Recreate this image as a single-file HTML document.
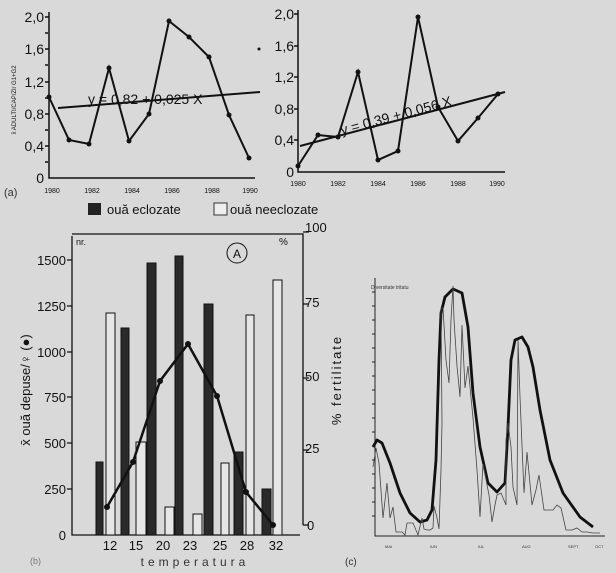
<!DOCTYPE html>
<html><head><meta charset="utf-8"><style>
html,body{margin:0;padding:0;background:#d9d9d9;}
svg{display:block;font-family:"Liberation Sans",sans-serif;}
</style></head><body>
<svg width="616" height="573" viewBox="0 0 616 573" xmlns="http://www.w3.org/2000/svg">
<rect width="616" height="573" fill="#d9d9d9"/>
<!-- Chart 1 -->
<g stroke="#111" fill="none" stroke-width="1.5">
<path d="M49,12 V178 H255"/>
<path d="M45,17h4M45,49h4M45,82h4M45,114h4M45,146h4M45,33h3M45,65h3M45,98h3M45,130h3M45,162h3"/>
<polyline stroke-width="2" points="49,97 69,140 89,144 109,68 129,141 149,114 169,21 189,37 209,57 229,115 249,158"/>
<line x1="58" y1="108" x2="260" y2="92" stroke-width="2"/>
</g>
<g fill="#111"><circle cx="49" cy="97" r="2.5"/><circle cx="69" cy="140" r="2.5"/><circle cx="89" cy="144" r="2.5"/><circle cx="109" cy="68" r="2.5"/><circle cx="129" cy="141" r="2.5"/><circle cx="149" cy="114" r="2.5"/><circle cx="169" cy="21" r="2.5"/><circle cx="189" cy="37" r="2.5"/><circle cx="209" cy="57" r="2.5"/><circle cx="229" cy="115" r="2.5"/><circle cx="249" cy="158" r="2.5"/></g>
<g font-size="14" fill="#111" text-anchor="end"><text x="44" y="22">2,0</text><text x="44" y="54">1,6</text><text x="44" y="87">1,2</text><text x="44" y="119">0,8</text><text x="44" y="151">0,4</text><text x="44" y="183">0</text></g>
<text x="88" y="104" font-size="14" fill="#111">y = 0,82 + 0,025 X</text>
<g font-size="7" fill="#111" text-anchor="middle"><text x="52" y="193">1980</text><text x="92" y="193">1982</text><text x="132" y="193">1984</text><text x="172" y="193">1986</text><text x="212" y="193">1988</text><text x="250" y="193">1990</text></g>
<text transform="translate(16,100) rotate(-90)" font-size="6" text-anchor="middle" fill="#111">x̄ ADULTI/CAP/ZI/ G1+G2</text>
<text x="4" y="196" font-size="11" fill="#333">(a)</text>
<!-- Chart 2 -->
<g stroke="#111" fill="none" stroke-width="1.5">
<path d="M298,10 V172 H505"/>
<path d="M294,14h4M294,46h4M294,77h4M294,109h4M294,140h4"/>
<polyline stroke-width="2" points="298,166 318,135 338,137 358,72 378,160 398,151 418,17 438,107 458,141 478,118 498,94"/>
<line x1="300" y1="146" x2="505" y2="92" stroke-width="2"/>
</g>
<g fill="#111"><circle cx="298" cy="166" r="2.5"/><circle cx="318" cy="135" r="2.5"/><circle cx="338" cy="137" r="2.5"/><circle cx="358" cy="72" r="2.5"/><circle cx="378" cy="160" r="2.5"/><circle cx="398" cy="151" r="2.5"/><circle cx="418" cy="17" r="2.5"/><circle cx="438" cy="107" r="2.5"/><circle cx="458" cy="141" r="2.5"/><circle cx="478" cy="118" r="2.5"/><circle cx="498" cy="94" r="2.5"/><circle cx="259" cy="49" r="1.5"/></g>
<g font-size="14" fill="#111" text-anchor="end"><text x="294" y="19">2,0</text><text x="294" y="51">1,6</text><text x="294" y="82">1,2</text><text x="294" y="114">0,8</text><text x="294" y="145">0,4</text><text x="294" y="177">0</text></g>
<text transform="translate(342,135) rotate(-15)" font-size="14" fill="#111">y = 0,39 + 0,056 X</text>
<g font-size="7" fill="#111" text-anchor="middle"><text x="298" y="186">1980</text><text x="338" y="186">1982</text><text x="378" y="186">1984</text><text x="418" y="186">1986</text><text x="458" y="186">1988</text><text x="497" y="186">1990</text></g>
<!-- legend -->
<rect x="88" y="203" width="13" height="12" fill="#222"/>
<text x="107" y="214" font-size="13" fill="#111">ouă eclozate</text>
<rect x="214" y="203" width="13" height="12" fill="#eee" stroke="#333"/>
<text x="230" y="214" font-size="13" fill="#111">ouă neeclozate</text>
<!-- Chart 3 -->
<g stroke="#111" fill="none" stroke-width="1.3">
<path d="M72,236 V535 H300"/><path d="M72,234 H303 V525"/>
<path d="M67,260h5M67,306h5M67,352h5M67,397h5M67,443h5M67,489h5"/>
<path d="M303,232h6M303,304h6M303,378h6M303,450h6M303,525h6"/>
</g>
<g fill="#2a2a2a" stroke="#111">
<rect x="96" y="462" width="7" height="73"/><rect x="121" y="328" width="8" height="207"/><rect x="147" y="263" width="9" height="272"/><rect x="175" y="256" width="8" height="279"/><rect x="204" y="304" width="9" height="231"/><rect x="234" y="452" width="9" height="83"/><rect x="262" y="489" width="9" height="46"/>
</g>
<g fill="#e6e6e6" stroke="#111">
<rect x="106" y="313" width="9" height="222"/><rect x="136" y="442" width="10" height="93"/><rect x="165" y="507" width="9" height="28"/><rect x="193" y="514" width="9" height="21"/><rect x="221" y="463" width="8" height="72"/><rect x="246" y="315" width="8" height="220"/><rect x="273" y="280" width="9" height="255"/>
</g>
<polyline fill="none" stroke="#111" stroke-width="2.5" points="107,507 133,462 160,381 188,344 217,396 246,492 273,525"/>
<g fill="#111"><circle cx="107" cy="507" r="3"/><circle cx="133" cy="462" r="3"/><circle cx="160" cy="381" r="3"/><circle cx="188" cy="344" r="3"/><circle cx="217" cy="396" r="3"/><circle cx="246" cy="492" r="3"/><circle cx="273" cy="525" r="3"/></g>
<g font-size="13" fill="#111" text-anchor="end"><text x="66" y="265">1500</text><text x="66" y="311">1250</text><text x="66" y="357">1000</text><text x="66" y="402">750</text><text x="66" y="448">500</text><text x="66" y="494">250</text><text x="66" y="540">0</text></g>
<g font-size="13" fill="#111"><text x="305" y="232">100</text><text x="305" y="307">75</text><text x="305" y="381">50</text><text x="305" y="453">25</text><text x="307" y="530">0</text></g>
<g font-size="13" fill="#111" text-anchor="middle"><text x="110" y="550">12</text><text x="136" y="550">15</text><text x="163" y="550">20</text><text x="190" y="550">23</text><text x="220" y="550">25</text><text x="247" y="550">28</text><text x="276" y="550">32</text></g>
<text x="195" y="566" font-size="12" fill="#333" text-anchor="middle" letter-spacing="4">temperatura</text>
<text transform="translate(30,390) rotate(-90)" font-size="13" fill="#111" text-anchor="middle">x̄ ouă depuse/♀ (●)</text>
<text transform="translate(341,380) rotate(-90)" font-size="13" fill="#111" text-anchor="middle" letter-spacing="2">% fertilitate</text>
<text x="76" y="245" font-size="9" fill="#111">nr.</text><text x="279" y="245" font-size="10" fill="#111">%</text>
<circle cx="237" cy="253" r="10" fill="none" stroke="#111"/><text x="237" y="258" font-size="12" text-anchor="middle" fill="#111">A</text>
<text x="30" y="564" font-size="9" fill="#777">(b)</text>
<!-- Chart 4 -->
<g stroke="#222" fill="none" stroke-width="1">
<path d="M375,278 V536 H605"/>
<path d="M372,292h3M372,306h3M372,320h3M372,334h3M372,348h3M372,362h3M372,376h3M372,390h3M372,404h3M372,418h3M372,432h3M372,446h3M372,460h3M372,474h3M372,488h3M372,502h3M372,516h3"/>
</g>
<text x="371" y="289" font-size="5" fill="#333">Diversitate tritatu</text>
<polyline fill="none" stroke="#111" stroke-width="2.8" stroke-linejoin="round" points="373,447 377,440 382,443 390,463 400,493 410,513 420,522 427,520 432,510 436,460 439,360 441,313 445,297 453,289 462,293 468,327 473,393 480,447 488,483 497,492 505,483 508,427 511,360 515,340 522,337 528,347 533,367 540,410 550,460 563,493 580,517 593,527"/>
<polyline fill="none" stroke="#444" stroke-width="0.8" points="373,467 376,448 379,463 383,518 387,483 390,518 393,507 396,532 399,532 402,532 405,535 407,523 413,523 418,535 422,518 424,529 427,530 430,530 433,528 434,506 437,518 439,529 441,470 442,423 441,308 443,308 446,360 449,383 451,320 453,286 454,320 457,366 460,397 462,325 465,388 468,366 473,418 477,470 480,517 483,464 489,495 492,522 495,505 497,495 501,493 506,505 506,440 508,423 511,447 513,487 517,505 518,340 520,397 524,493 527,452 532,505 536,490 539,475 544,510 549,510 553,510 557,505 561,508 566,530 572,530 577,528 582,532 587,532 593,533 600,533"/>
<text x="345" y="565" font-size="10" fill="#333">(c)</text>
<g font-size="4" fill="#333"><text x="385" y="548">MAI</text><text x="430" y="548">IUN</text><text x="478" y="548">IUL</text><text x="522" y="548">AUG</text><text x="568" y="548">SEPT</text><text x="595" y="548">OCT</text></g>
</svg>
</body></html>
